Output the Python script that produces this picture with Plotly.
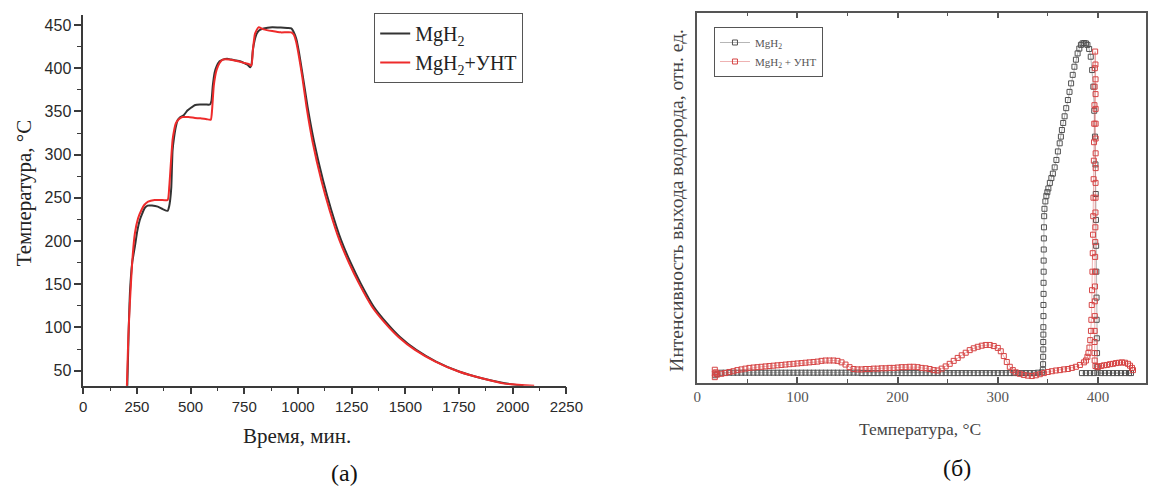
import plotly.graph_objects as go

W, H = 1165, 487

# ---------------- left panel: temperature vs time ----------------
time_mgh2 = [205, 212, 218, 228, 240, 252, 263, 275, 286, 300, 320, 347, 370, 393, 400, 405,
             410, 416, 423, 431, 440, 450, 469, 485, 500, 522, 545, 570, 590, 597, 603, 612,
             621, 635, 650, 670, 690, 710, 730, 750, 765, 778, 784, 790, 798, 808, 820, 840,
             880, 920, 950, 969, 980, 992, 1005, 1020, 1045, 1075, 1117, 1155, 1201, 1247,
             1292, 1353, 1414, 1475, 1551, 1643, 1750, 1856, 1963, 2050]
temp_mgh2 = [30, 100, 143, 175, 193, 212, 224, 232, 238, 241, 241, 239.8, 237, 235, 240, 248,
             262, 305, 320, 332, 340, 343, 346, 351, 354, 357.5, 358, 358, 358, 362, 379, 395,
             402, 408, 410, 411, 410, 409, 408, 406, 404, 401, 405, 421, 432, 440, 444, 446,
             447.4, 447, 446.5, 446, 442, 434, 418, 395, 355, 315, 270, 236, 201, 174,
             151, 124, 105, 89, 74, 60.5, 49, 41.2, 35.5, 32.5]

time_cnt = [203, 210, 218, 228.6, 240.6, 255, 271, 285, 302, 332, 360, 393, 400.6, 408, 416,
            423, 431, 445, 462, 490, 520, 545.5, 575, 594, 600, 608, 621, 635, 650, 680, 720,
            752, 770, 783, 790, 800, 816, 840, 880, 920, 969, 980, 992, 1005, 1020, 1040, 1068,
            1109, 1147, 1193, 1239, 1284, 1345, 1406, 1468, 1545, 1640, 1748, 1856, 1963, 2100]
temp_cnt = [30, 90, 132, 178, 209, 226, 236, 242, 245.6, 247.5, 247.5, 247.5, 263, 290, 317,
            328, 336, 341, 343.5, 343.5, 342.5, 342, 341, 340.5, 352, 380, 398, 406, 410, 410,
            408, 406, 405, 403, 421, 440, 447.3, 445, 443, 441.5, 441.5, 439, 430, 413, 390,
            355, 315, 270, 236, 201, 174, 151, 124, 105, 89, 74, 60.5, 49, 41.2, 35, 32.5]

time_ticks = [0, 250, 500, 750, 1000, 1250, 1500, 1750, 2000, 2250]
temp_ticks = [50, 100, 150, 200, 250, 300, 350, 400, 450]

# ---------------- right panel: TDS intensity vs temperature ----------------
T_mgh2 = [18, 20, 24, 28, 32, 36, 40, 44, 48, 52, 56, 60, 64, 68, 72, 76, 80, 84, 88, 92, 96,
          100, 104, 108, 112, 116, 120, 124, 128, 132, 136, 140, 144, 148, 152, 156, 160, 164,
          168, 172, 176, 180, 184, 188, 192, 196, 200, 204, 208, 212, 216, 220, 224, 228, 232,
          236, 240, 244, 248, 252, 256, 260, 264, 268, 272, 276, 280, 284, 288, 292, 296, 300,
          304, 308, 312, 316, 320, 324, 328, 332, 336, 340, 344,
          345.0, 345.2, 345.3, 345.4, 345.4, 345.5, 345.5, 345.6, 345.6, 345.7, 345.7, 345.8,
          345.8, 345.9, 346.0, 346.1, 346.3, 346.6,
          347.5, 348.5, 349.5, 350.5, 352, 353.5, 355, 356.8, 358.5, 360, 361.8, 363, 364, 365.3,
          366.7, 368.3, 370, 371.6, 373.2, 374.8, 376.5, 378, 379.7, 381.4, 383, 384.6, 386.3,
          388, 389.5, 391.2, 392.8, 394.2, 395.4, 396.3, 397, 397.5, 397.8, 398, 398.2, 398.4,
          398.6, 398.7, 398.9, 399.1, 399.3, 399.5,
          403, 407, 411, 415, 419, 423, 427, 431, 433, 396, 392, 388, 384]
I_mgh2 = [2.0, 2.4, 2.7, 2.7, 2.7, 2.7, 2.7, 2.7, 2.7, 2.7, 2.7, 2.7, 2.7, 2.7, 2.7, 2.7, 2.7,
          2.7, 2.7, 2.7, 2.7, 2.7, 2.7, 2.7, 2.7, 2.7, 2.7, 2.7, 2.7, 2.7, 2.7, 2.7, 2.7, 2.7,
          2.7, 2.7, 2.7, 2.6, 2.6, 2.6, 2.6, 2.6, 2.6, 2.6, 2.6, 2.6, 2.6, 2.6, 2.6, 2.6, 2.6,
          2.6, 2.6, 2.6, 2.6, 2.6, 2.6, 2.6, 2.6, 2.6, 2.6, 2.6, 2.6, 2.6, 2.6, 2.6, 2.6, 2.6,
          2.6, 2.6, 2.6, 2.6, 2.6, 2.6, 2.6, 2.6, 2.6, 2.6, 2.6, 2.6, 2.6, 2.7, 2.8,
          3.5, 5, 7, 9, 11, 13, 15, 18, 21, 24, 27, 30, 33, 36, 39, 42, 45, 47,
          49, 50.5, 51.5, 52.5, 54, 55.3, 56.5, 58.2, 60.2, 62.5, 64.7, 66.5, 68.3, 70.2,
          72, 74.2, 76.4, 78.6, 80.9, 83.2, 85.4, 87.3, 89, 90.3, 91.3, 91.7, 91.8,
          91.7, 91.3, 90.2, 88.1, 84.5, 80, 73.5, 66.5, 59, 51, 44, 37, 30,
          23, 17, 12, 8, 4.3, 2.7,
          2.6, 2.6, 2.6, 2.6, 2.6, 2.6, 2.6, 2.6, 2.6, 2.6, 2.6, 2.6, 2.6]

T_cnt = [17.5, 17.5, 17.5, 18.5, 20, 24, 28, 32, 36, 40, 44, 48, 52, 56, 60, 64, 68, 72, 76,
         80, 84, 88, 92, 96, 100, 104, 108, 112, 116, 120, 124, 128, 132, 136, 140, 144, 148,
         152, 156, 160, 164, 168, 172, 176, 180, 184, 188, 192, 196, 200, 204, 208, 212, 216,
         220, 224, 228, 232, 236, 240, 244, 248, 252, 256, 260, 264, 268, 272, 276, 280, 284,
         288, 292, 296, 300, 303, 306, 309, 312, 315, 318, 322, 326, 330, 334, 338, 342, 346,
         350, 354, 358, 362, 366, 370, 374, 378, 382,
         386, 388, 389.5, 390.5, 391.5, 392.3, 393, 393.4, 393.8, 394.1, 394.5, 394.8, 395.1,
         395.3, 395.5, 395.7, 395.9, 396.1, 396.3, 396.5, 396.7, 396.9, 397.2,
         397.5, 397.6, 397.6, 397.7, 397.7, 397.7, 397.7, 397.7, 397.6, 397.6, 397.5, 397.4,
         397.3, 397.2, 397.1, 397.0, 396.9, 396.8, 396.7, 396.6, 396.6, 396.7, 397.5,
         400, 403, 406, 409, 412, 415, 418, 421, 424, 427, 430, 432, 434, 435]
I_cnt = [1.5, 2.5, 3.5, 2.8, 2.2, 2.4, 2.6, 2.9, 3.1, 3.4, 3.6, 3.8, 4.0, 4.1, 4.2, 4.3, 4.4,
         4.5, 4.6, 4.7, 4.8, 4.9, 5.0, 5.1, 5.2, 5.3, 5.4, 5.5, 5.6, 5.7, 5.9, 6.0, 6.0, 6.0,
         5.9, 5.5, 4.9, 4.2, 3.7, 3.6, 3.6, 3.7, 3.7, 3.8, 3.8, 3.9, 3.9, 4.0, 4.0, 4.1, 4.2,
         4.2, 4.3, 4.3, 4.2, 4.0, 3.9, 3.7, 3.4, 3.3, 3.8, 4.4, 5.1, 5.9, 6.7, 7.4, 8.1, 8.8,
         9.3, 9.7, 10.0, 10.2, 10.2, 9.9, 9.4, 8.5, 7.2, 5.6, 4.3, 3.4, 2.8, 2.4, 2.1, 1.9,
         1.8, 2.0, 2.3, 2.6, 2.9, 3.1, 3.3, 3.4, 3.6, 3.7, 4.0, 4.3, 4.8,
         5.5, 6.0, 7, 8, 9.5, 11.5, 14, 17, 21, 25, 30, 35, 40, 45, 50, 55, 60, 65, 70, 75,
         80, 85, 89.5,
         86, 82, 78, 74, 70, 66, 62, 58, 54, 50, 46, 42, 38, 34, 30, 26, 22, 18, 14, 11, 8,
         6, 4.5,
         4.2, 4.5, 4.7, 4.8, 5.0, 5.1, 5.3, 5.4, 5.5, 5.4, 5.1, 4.6, 4.0, 3.4]

T_ticks = [0, 100, 200, 300, 400]

SERIF = "Liberation Serif"
SANS = "Liberation Sans"

fig = go.Figure()

fig.add_trace(go.Scatter(
    x=time_mgh2, y=temp_mgh2, mode="lines", name="MgH<sub>2</sub>",
    line=dict(color="#333333", width=2, shape="spline", smoothing=0.5),
    xaxis="x", yaxis="y", legend="legend"))
fig.add_trace(go.Scatter(
    x=time_cnt, y=temp_cnt, mode="lines", name="MgH<sub>2</sub>+УНТ",
    line=dict(color="#ee2b2b", width=2, shape="spline", smoothing=0.5),
    xaxis="x", yaxis="y", legend="legend"))

fig.add_trace(go.Scatter(
    x=T_mgh2, y=I_mgh2, mode="lines+markers", name="MgH<sub>2</sub>",
    line=dict(color="rgba(80,80,80,0.6)", width=0.7),
    marker=dict(symbol="square-open", size=5, color="#505050", line=dict(width=1)),
    xaxis="x2", yaxis="y2", legend="legend2"))
fig.add_trace(go.Scatter(
    x=T_cnt, y=I_cnt, mode="lines+markers", name="MgH<sub>2</sub> + УНТ",
    line=dict(color="rgba(215,70,70,0.6)", width=0.7),
    marker=dict(symbol="square-open", size=5, color="#d64545", line=dict(width=1)),
    xaxis="x2", yaxis="y2", legend="legend2"))

AX = "#3a3a3a"
fig.update_layout(
    width=W, height=H,
    margin=dict(l=0, r=0, t=0, b=0),
    paper_bgcolor="white", plot_bgcolor="white",
    showlegend=True,
    xaxis=dict(
        domain=[80.7 / W, 572.7 / W], range=[0, 2250], anchor="y",
        tickvals=time_ticks, ticktext=[str(v) for v in time_ticks],
        showline=True, linecolor=AX, linewidth=1.5,
        ticks="outside", ticklen=7, tickwidth=1.5, tickcolor=AX,
        minor=dict(ticks="outside", ticklen=4, tickwidth=1.2, tickcolor=AX, dtick=125, tick0=0),
        showgrid=False, zeroline=False,
        tickfont=dict(family=SANS, size=15, color="#2a2a2a")),
    yaxis=dict(
        domain=[1 - 385.7 / H, 1 - 15 / H], range=[32.6, 461.6], anchor="x",
        tickvals=temp_ticks,
        showline=True, linecolor=AX, linewidth=1.5,
        ticks="outside", ticklen=7, tickwidth=1.5, tickcolor=AX,
        minor=dict(ticks="outside", ticklen=4, tickwidth=1.2, tickcolor=AX, dtick=25, tick0=0),
        showgrid=False, zeroline=False,
        tickfont=dict(family=SANS, size=16, color="#2a2a2a")),
    xaxis2=dict(
        domain=[706 / W, 1163 / W], range=[0, 448], anchor="y2",
        tickvals=T_ticks,
        showline=True, linecolor="#555555", linewidth=1.5, mirror="ticks",
        ticks="inside", ticklen=6, tickwidth=1.5, tickcolor="#555555",
        minor=dict(ticks="inside", ticklen=4, tickwidth=1.2, tickcolor="#555555", dtick=50, tick0=0),
        showgrid=False, zeroline=False,
        tickfont=dict(family=SERIF, size=15, color="#555555")),
    yaxis2=dict(
        domain=[1 - 382.7 / H, 1 - 12.7 / H], range=[0, 100], anchor="x2",
        showticklabels=False, ticks="",
        showline=True, linecolor="#555555", linewidth=1.5, mirror=True,
        showgrid=False, zeroline=False),
    legend=dict(
        x=377 / W, y=1 - 13 / H, xanchor="left", yanchor="top",
        bgcolor="white", bordercolor="#555555", borderwidth=1,
        font=dict(family=SERIF, size=20, color="#222222"),
        tracegroupgap=0),
    legend2=dict(
        x=723 / W, y=1 - 27 / H, xanchor="left", yanchor="top",
        bgcolor="white", bordercolor="#555555", borderwidth=1,
        font=dict(family=SERIF, size=11, color="#555555"),
        tracegroupgap=0),
    annotations=[
        dict(text="Температура, °С", x=20.7 / W, y=1 - 193 / H, xref="paper", yref="paper",
             textangle=-90, showarrow=False, xanchor="center", yanchor="middle",
             font=dict(family=SERIF, size=21, color="#222222")),
        dict(text="Время, мин.", x=298 / W, y=1 - 436 / H, xref="paper", yref="paper",
             showarrow=False, xanchor="center", yanchor="middle",
             font=dict(family=SERIF, size=21, color="#222222")),
        dict(text="(а)", x=347 / W, y=1 - 473 / H, xref="paper", yref="paper",
             showarrow=False, xanchor="center", yanchor="middle",
             font=dict(family=SERIF, size=24, color="#111111")),
        dict(text="Интенсивность выхода водорода, отн. ед.", x=684 / W, y=1 - 200 / H,
             xref="paper", yref="paper", textangle=-90, showarrow=False,
             xanchor="center", yanchor="middle",
             font=dict(family=SERIF, size=19.5, color="#444444")),
        dict(text="Температура, °С", x=933 / W, y=1 - 429 / H, xref="paper", yref="paper",
             showarrow=False, xanchor="center", yanchor="middle",
             font=dict(family=SERIF, size=17.5, color="#444444")),
        dict(text="(б)", x=970 / W, y=1 - 468 / H, xref="paper", yref="paper",
             showarrow=False, xanchor="center", yanchor="middle",
             font=dict(family=SERIF, size=24, color="#111111")),
    ],
)

fig.write_html("out.html")
